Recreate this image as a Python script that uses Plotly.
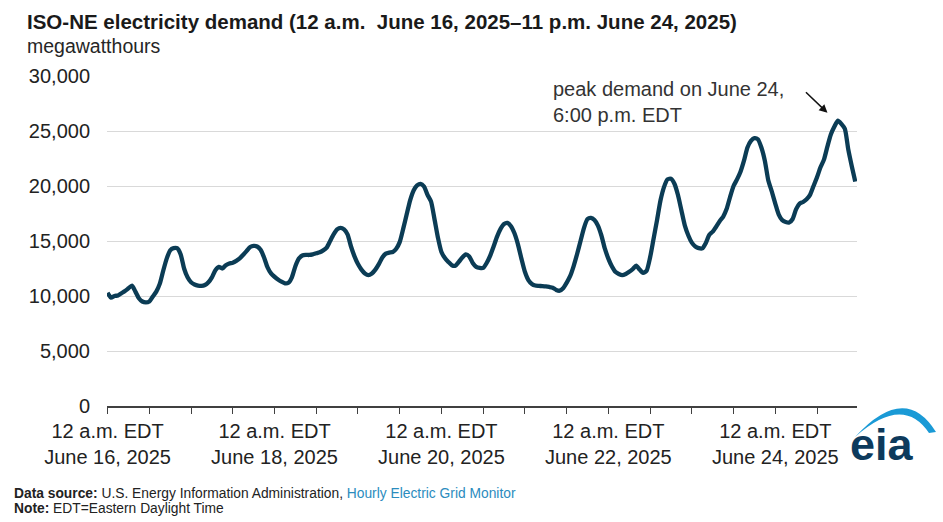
import pandas as pd
import plotly.graph_objects as go

# hourly ISO-NE demand, megawatthours, one list per day (12 a.m. .. 11 p.m. EDT)
JUN16 = [10300, 9850, 10000, 10050, 10250, 10450, 10700, 10950, 10400, 9800, 9500, 9420,
         9500, 9950, 10400, 11100, 12300, 13400, 14150, 14350, 14350, 13800, 12500, 11700]
JUN17 = [11250, 11050, 10950, 10920, 11000, 11250, 11700, 12350, 12650, 12500, 12800, 12950,
         13030, 13200, 13420, 13750, 14100, 14450, 14550, 14500, 14200, 13500, 12600, 12050]
JUN18 = [11750, 11500, 11300, 11150, 11200, 11700, 12700, 13400, 13680, 13730, 13730, 13780,
         13880, 13980, 14150, 14400, 15000, 15600, 16050, 16200, 16050, 15600, 14500, 13600]
JUN19 = [12900, 12400, 12050, 11900, 12050, 12400, 12900, 13500, 13850, 13950, 14000, 14300,
         14900, 16100, 17400, 18700, 19600, 20050, 20200, 19950, 19200, 18600, 17000, 15300]
JUN20 = [14000, 13450, 13100, 12800, 12750, 13100, 13500, 13780, 13600, 13000, 12650, 12550,
         12550, 13000, 13650, 14500, 15400, 16100, 16550, 16650, 16350, 15700, 14700, 13400]
JUN21 = [12200, 11450, 11100, 10950, 10920, 10900, 10870, 10820, 10750, 10550, 10480, 10700,
         11200, 11800, 12700, 13800, 15000, 16200, 17000, 17100, 16900, 16400, 15500, 14300]
JUN22 = [13400, 12700, 12200, 12000, 11900, 12000, 12200, 12450, 12750, 12400, 12100, 12300,
         13500, 15200, 16900, 18700, 19900, 20600, 20650, 20200, 19200, 17800, 16400, 15500]
JUN23 = [14850, 14500, 14350, 14330, 14800, 15550, 15850, 16300, 16800, 17200, 17900, 19000,
         20000, 20600, 21300, 22300, 23500, 24100, 24350, 24250, 23500, 22300, 20500, 19500]
JUN24 = [18400, 17400, 16900, 16730, 16680, 17000, 17900, 18400, 18550, 18800, 19200, 20000,
         20800, 21700, 22400, 23600, 24700, 25400, 25950, 25650, 25200, 23300, 21800, 20400]

DAYS = [JUN16, JUN17, JUN18, JUN19, JUN20, JUN21, JUN22, JUN23, JUN24]
DEMAND = [v for day in DAYS for v in day]
HOURS = pd.date_range("2025-06-16 00:00", periods=len(DEMAND), freq="h")

TICK_DATES = pd.date_range("2025-06-16 00:00", "2025-06-24 12:00", freq="12h")
LABEL_DAYS = ["June 16, 2025", "June 18, 2025", "June 20, 2025", "June 22, 2025", "June 24, 2025"]

W, H = 943, 522
L, R, T, B = 107, 857, 76, 406   # plot area in pixels

ARIAL = "Liberation Sans, Arial, sans-serif"
LINE = "#0b3c55"


def px(x, y):
    """pixel position -> paper coords"""
    return (x - L) / (R - L), (B - y) / (B - T)


def text_at(x, y, text, size, xanchor="left", yanchor="top", color="#222", **kw):
    xp, yp = px(x, y)
    return dict(x=xp, y=yp, xref="paper", yref="paper", xanchor=xanchor, yanchor=yanchor,
                showarrow=False, text=text, font=dict(family=ARIAL, size=size, color=color), **kw)


ticktext = []
for i, t in enumerate(TICK_DATES):
    ticktext.append(f"12 a.m. EDT<br>{LABEL_DAYS[i // 4]}" if i % 4 == 0 else "")

fig = go.Figure()
fig.add_trace(go.Scatter(
    x=HOURS, y=DEMAND, mode="lines",
    line=dict(color=LINE, width=4.3, shape="spline", smoothing=0.6),
    hovertemplate="%{x}<br>%{y:,.0f} MWh<extra></extra>",
))

fig.update_xaxes(
    range=[HOURS[0] - pd.Timedelta(minutes=10), HOURS[-1] + pd.Timedelta(minutes=30)],
    tickvals=TICK_DATES, ticktext=ticktext,
    ticks="outside", ticklen=6, tickcolor="#404040", tickwidth=1,
    showline=True, linecolor="#404040", linewidth=1.5,
    showgrid=False, zeroline=False,
    tickfont=dict(family=ARIAL, size=20, color="#222"),
)
fig.update_yaxes(
    range=[0, 30000], dtick=5000, tickformat=",",
    showgrid=True, gridcolor="#d9d9d9", gridwidth=1.2,
    zeroline=False, ticks="", ticklabelstandoff=16,
    tickfont=dict(family=ARIAL, size=20, color="#222"),
)

annots = [
    text_at(25, 8, "<b>ISO-NE electricity demand (12 a.m.  June 16, 2025–11 p.m. June 24, 2025)</b>",
            20.5, color="#1a1a1a"),
    text_at(25, 33, "megawatthours", 19.5, color="#262626"),
    text_at(551, 76, "peak demand on June 24,<br>6:00 p.m. EDT", 20, color="#333", align="left"),
    text_at(12, 493, "<b>Data source:</b> U.S. Energy Information Administration, "
                     "<span style='color:#2b8cbe'>Hourly Electric Grid Monitor</span>",
            13.8, yanchor="middle"),
    text_at(12, 509, "<b>Note:</b> EDT=Eastern Daylight Time", 13.8, yanchor="middle"),
    text_at(882, 472, "<b>eia</b>", 45, xanchor="center", yanchor="bottom", color="#0d3a5c"),
]

# arrow toward the peak
ipk = DEMAND.index(max(DEMAND))
annots.append(dict(x=HOURS[ipk] - pd.Timedelta(hours=3), y=DEMAND[ipk] + 700,
                   xref="x", yref="y", text="", showarrow=True,
                   arrowhead=2, arrowsize=1.1, arrowwidth=1.5, arrowcolor="#111",
                   ax=-23, ay=-22))

# eia logo swoosh
pts = [(855, 437), (905, 382), (936, 432), (929, 433), (903, 394), (855, 437)]
p = [px(*q) for q in pts]
path = (f"M {p[0][0]},{p[0][1]} Q {p[1][0]},{p[1][1]} {p[2][0]},{p[2][1]} "
        f"L {p[3][0]},{p[3][1]} Q {p[4][0]},{p[4][1]} {p[5][0]},{p[5][1]} Z")

fig.update_layout(
    width=W, height=H,
    margin=dict(l=L, r=W - R, t=T, b=H - B),
    paper_bgcolor="white", plot_bgcolor="white",
    showlegend=False,
    annotations=annots,
    shapes=[dict(type="path", path=path, xref="paper", yref="paper",
                 fillcolor="#1a9ad6", line=dict(width=0), layer="above")],
)

fig.write_html("out.html", config={"displayModeBar": False},
               post_script="document.body.style.margin='0';")
